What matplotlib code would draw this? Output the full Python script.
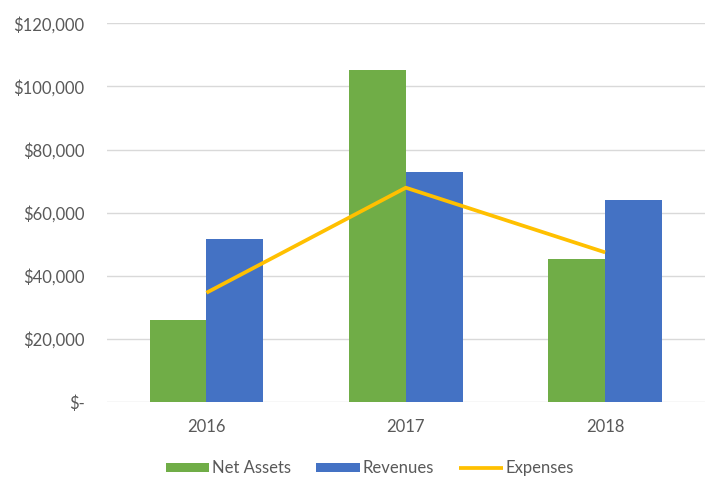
import matplotlib.pyplot as plt
import numpy as np
from matplotlib.ticker import FuncFormatter

years = ["2016", "2017", "2018"]
net_assets = [25950, 105100, 45250]
revenues = [51500, 72900, 63900]
expenses = [34600, 67900, 47400]

green = "#70AD47"
blue = "#4472C4"
orange = "#FFC000"
text_col = "#595959"

plt.rcParams['font.family'] = ['Lato', 'DejaVu Sans']

fig = plt.figure(figsize=(7.07, 4.86), dpi=100)
ax = fig.add_axes([0.151, 0.173, 0.846, 0.779])

x = np.arange(len(years))
w = 0.285
b1 = ax.bar(x - w / 2, net_assets, w, color=green, label="Net Assets", zorder=2)
b2 = ax.bar(x + w / 2, revenues, w, color=blue, label="Revenues", zorder=2)
l1, = ax.plot(x, expenses, color=orange, lw=2.7, label="Expenses", zorder=3,
              solid_capstyle='butt')

ax.set_ylim(0, 120000)
ax.set_xlim(-0.5, 2.5)
ax.set_yticks(np.arange(0, 120001, 20000))
ax.yaxis.set_major_formatter(FuncFormatter(
    lambda v, p: "$-" if v == 0 else f"${v:,.0f}"))
ax.set_xticks(x)
ax.set_xticklabels(years)
ax.grid(axis='y', color="#D9D9D9", lw=1, zorder=0)
for s in ax.spines.values():
    s.set_visible(False)
ax.tick_params(length=0, colors=text_col, labelsize=12)
ax.tick_params(axis='y', pad=16)
ax.tick_params(axis='x', pad=12)

ax.legend([b1, b2, l1], ["Net Assets", "Revenues", "Expenses"],
          loc='center', bbox_to_anchor=(0.44, -0.175), ncol=3,
          frameon=False, fontsize=12, labelcolor=text_col,
          handlelength=2.6, handleheight=0.45, handletextpad=0.2,
          columnspacing=1.5)

fig.savefig("out.png", dpi=100)
